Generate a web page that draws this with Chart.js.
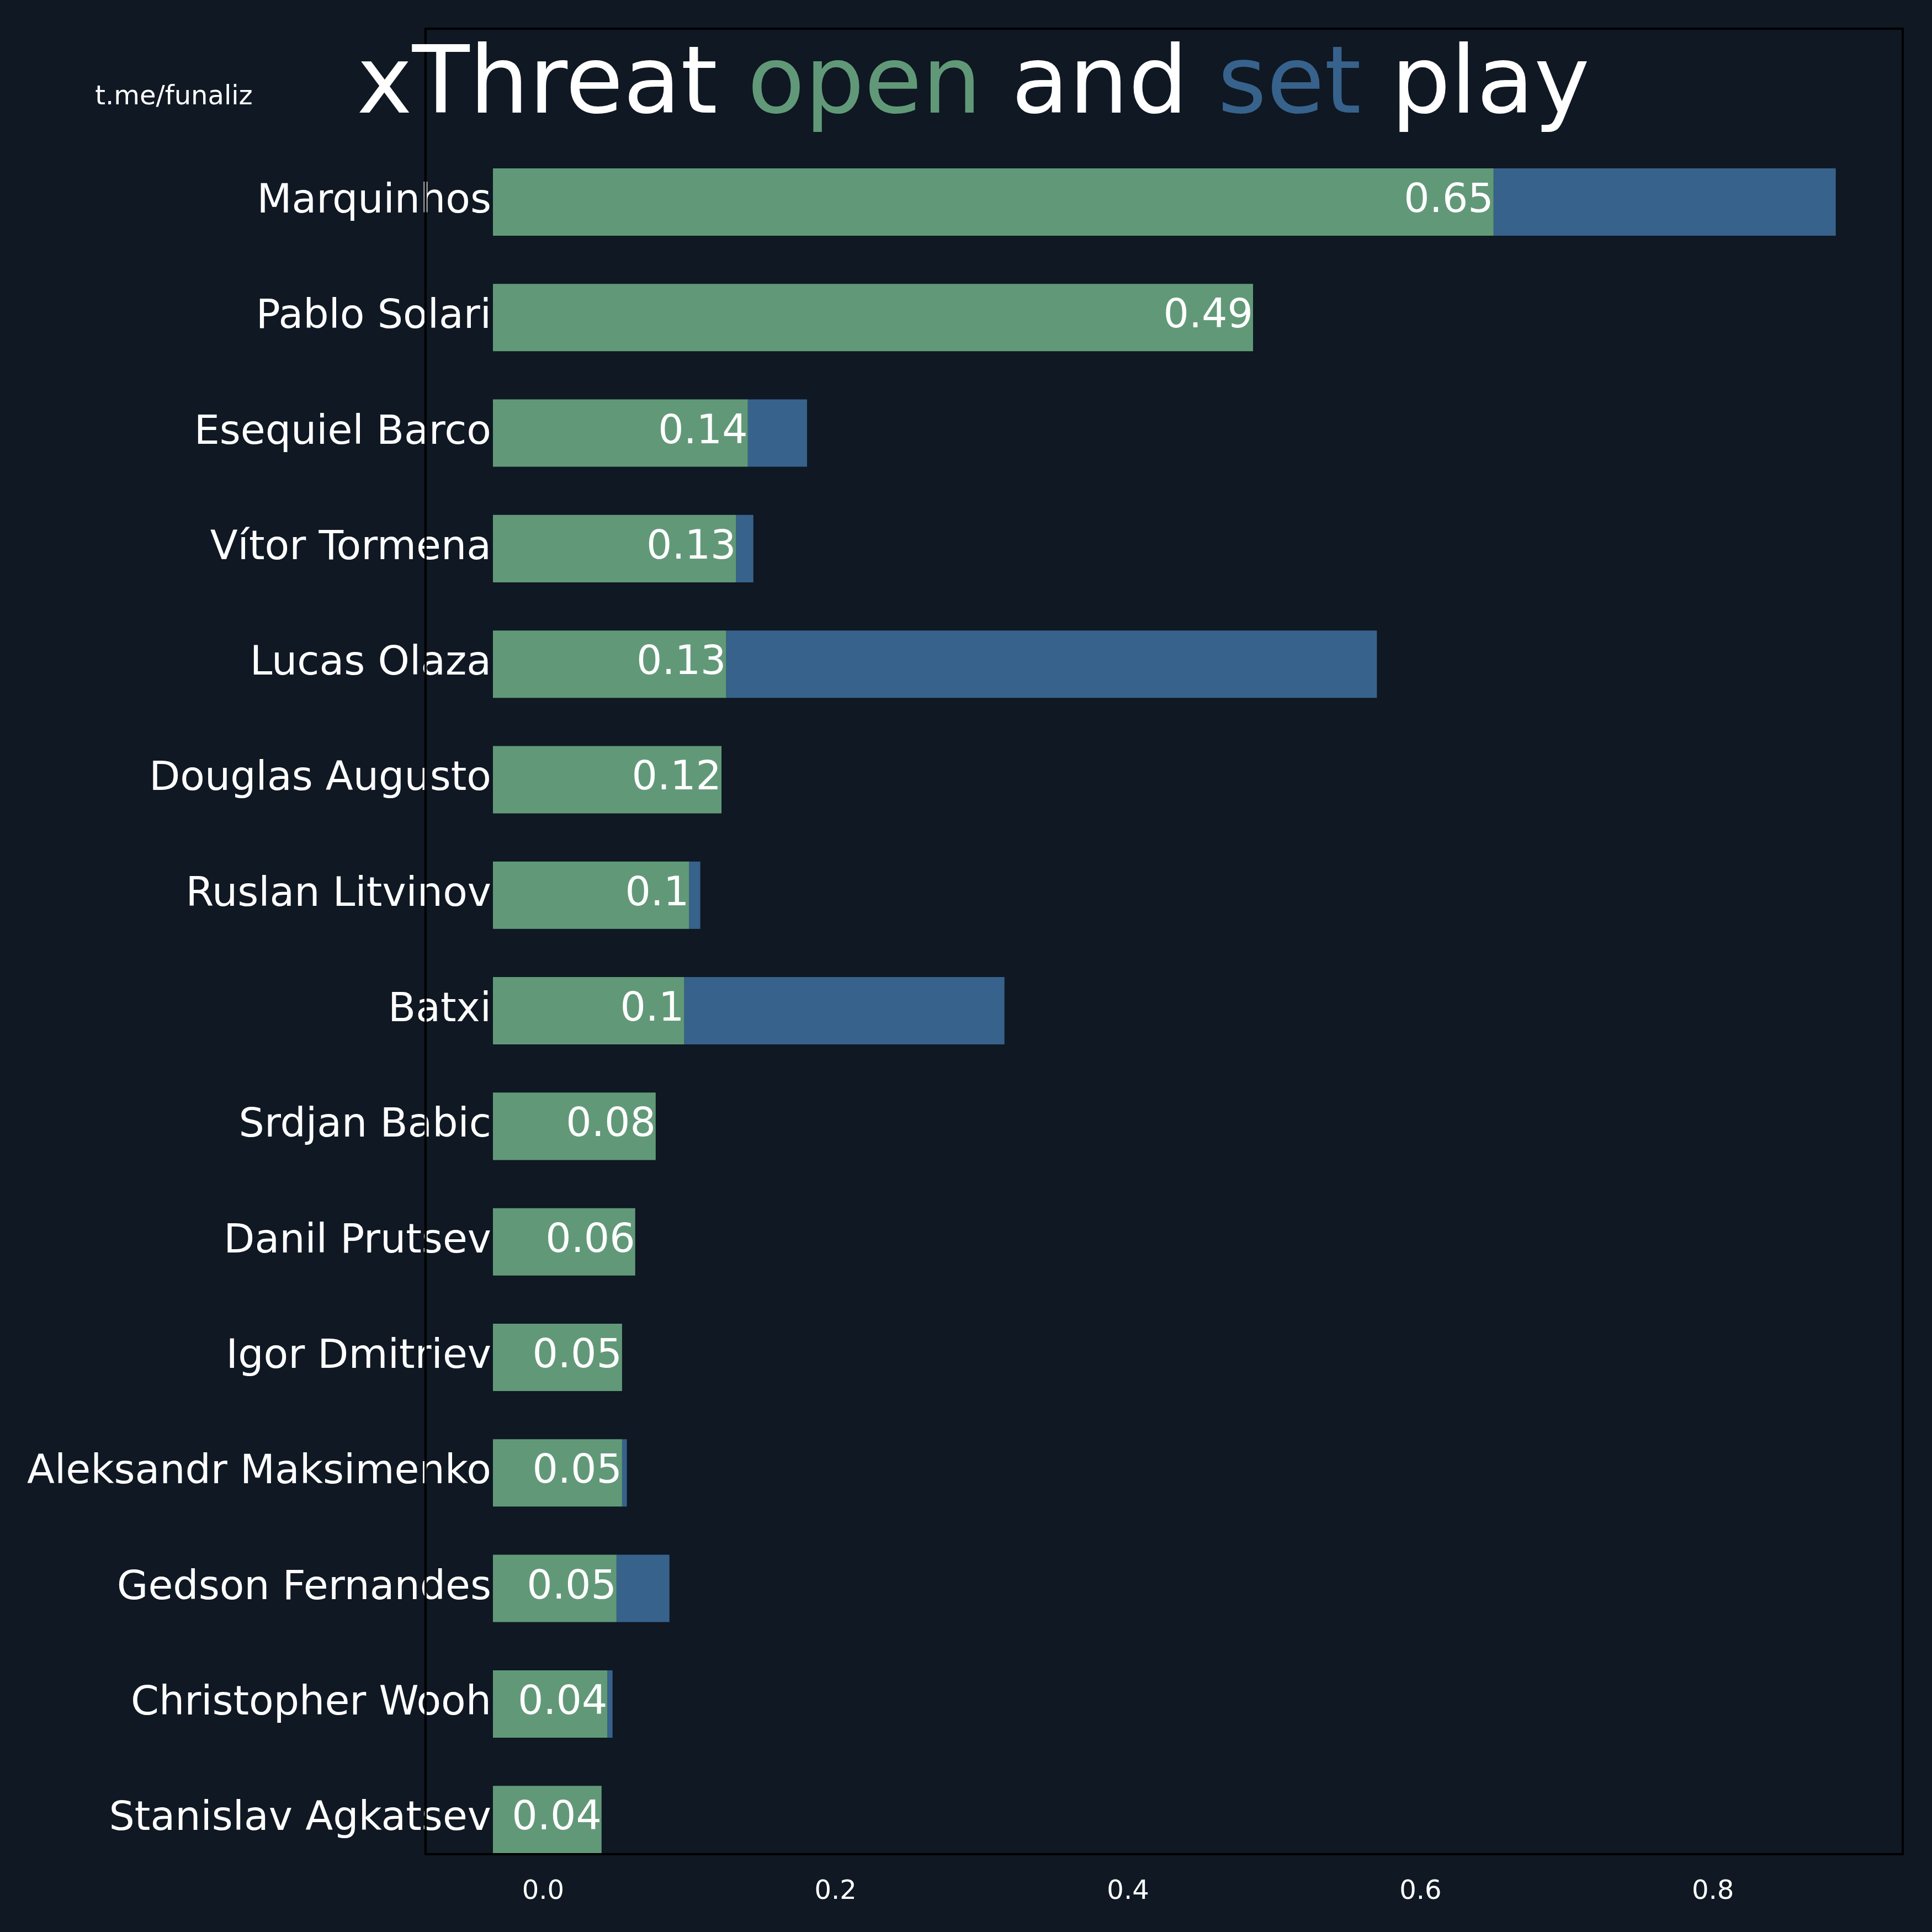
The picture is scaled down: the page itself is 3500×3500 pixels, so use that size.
<!DOCTYPE html>
<html>
<head>
<meta charset="utf-8">
<script src="https://cdn.jsdelivr.net/npm/chart.js@4.4.0/dist/chart.umd.min.js"></script>
<style>
    html, body { margin: 0; padding: 0; background: #0f1823; }
    #wrap { width: 3500px; height: 3500px; }
</style>
</head>
<body>
<div id="wrap"><canvas id="chartXT"></canvas></div>
<script>
// dados (xThreat por jogador)
var jogadores = ["Marquinhos", "Pablo Solari", "Esequiel Barco", "Vítor Tormena", "Lucas Olaza",
    "Douglas Augusto", "Ruslan Litvinov", "Batxi", "Srdjan Babic", "Danil Prutsev", "Igor Dmitriev",
    "Aleksandr Maksimenko", "Gedson Fernandes", "Christopher Wooh", "Stanislav Agkatsev"];
var openPlay = [0.650, 0.4855, 0.140, 0.132, 0.1252, 0.122, 0.0999, 0.0965, 0.077, 0.063, 0.054,
    0.054, 0.0502, 0.044, 0.040];
var setPlay = [0.234, 0, 0.0405, 0.0118, 0.445, 0, 0.0076, 0.219, 0, 0, 0,
    0.0033, 0.0362, 0.0035, 0];
var ticksX = [0, 0.2, 0.4, 0.6, 0.8];
var inicioBarra = -0.0343;
var limitesX = [-0.0804, 0.9298];
var limitesY = [-1.5, 14.3];

var corFundo = "#0f1823";
var corOpen = "#619978";
var corSet = "#37628b";
var fonte = "DejaVu Sans";

Chart.defaults.font.family = fonte;

function formatar(v) {
    return String(Math.round(v * 100) / 100);
}

// fundo escuro
var pluginFundo = {
    id: "fundo",
    beforeDraw: function(chart) {
        var ctx = chart.ctx;
        ctx.save();
        ctx.fillStyle = corFundo;
        ctx.fillRect(0, 0, chart.width, chart.height);
        ctx.restore();
    }
};

// moldura, valores nas barras, título e assinatura
var pluginTextos = {
    id: "textos",
    afterDraw: function(chart) {
        var ctx = chart.ctx;
        var area = chart.chartArea;
        var esquerda = chart.scales.x.getPixelForValue(limitesX[0]);
        ctx.save();

        ctx.strokeStyle = "#000000";
        ctx.lineWidth = 4;
        ctx.strokeRect(esquerda, area.top, area.right - esquerda, area.bottom - area.top);

        var meta = chart.getDatasetMeta(0);
        ctx.font = "73px '" + fonte + "'";
        ctx.fillStyle = "#ffffff";
        ctx.textAlign = "right";
        ctx.textBaseline = "middle";
        meta.data.forEach(function(barra, i) {
            ctx.fillText(formatar(openPlay[i]), barra.x, barra.y - 1);
        });

        var partes = [["xThreat ", "#ffffff"], ["open", corOpen], [" and ", "#ffffff"],
            ["set", corSet], [" play", "#ffffff"]];
        ctx.font = "170px '" + fonte + "'";
        ctx.textAlign = "left";
        ctx.textBaseline = "alphabetic";
        var total = 0;
        partes.forEach(function(p) { total += ctx.measureText(p[0]).width; });
        var x = 1763 - total / 2;
        partes.forEach(function(p) {
            ctx.fillStyle = p[1];
            ctx.fillText(p[0], x, 204);
            x += ctx.measureText(p[0]).width;
        });

        ctx.font = "48px '" + fonte + "'";
        ctx.fillStyle = "#ffffff";
        ctx.textAlign = "center";
        ctx.fillText("t.me/funaliz", 315, 189);
        ctx.restore();
    }
};

function plotarXT() {
    var ctx = document.getElementById("chartXT").getContext("2d");
    var grafico = new Chart(ctx, {
        type: "bar",
        data: {
            datasets: [{
                label: "open",
                data: openPlay.map(function(v, i) { return { x: [inicioBarra, v], y: i }; }),
                backgroundColor: corOpen,
            }, {
                label: "set",
                data: setPlay.map(function(v, i) { return { x: [openPlay[i], openPlay[i] + v], y: i }; }),
                backgroundColor: corSet,
            }, ],
        },
        options: {
            indexAxis: "y",
            animation: false,
            responsive: true,
            maintainAspectRatio: false,
            devicePixelRatio: 1,
            datasets: {
                bar: {
                    grouped: false,
                    categoryPercentage: 1,
                    barPercentage: 0.583,
                    borderWidth: 0,
                }
            },
            layout: { padding: { top: 52, right: 53, left: 0, bottom: 0 } },
            plugins: {
                legend: { display: false },
                tooltip: { enabled: false },
            },
            scales: {
                x: {
                    type: "linear",
                    min: inicioBarra,
                    max: limitesX[1],
                    offset: false,
                    grid: { display: false, drawTicks: false },
                    border: { display: false },
                    afterBuildTicks: function(eixo) {
                        eixo.ticks = ticksX.map(function(v) { return { value: v }; });
                    },
                    afterFit: function(eixo) { eixo.height = 141; },
                    ticks: {
                        color: "#ffffff",
                        font: { size: 48 },
                        padding: 40,
                        autoSkip: false,
                        maxRotation: 0,
                        callback: function(v) { return v.toFixed(1); },
                    },
                },
                y: {
                    type: "linear",
                    reverse: true,
                    offset: false,
                    min: limitesY[0],
                    max: limitesY[1],
                    grid: { display: false, drawTicks: false },
                    border: { display: false },
                    afterBuildTicks: function(eixo) {
                        eixo.ticks = jogadores.map(function(n, i) { return { value: i }; });
                    },
                    afterFit: function(eixo) { eixo.width = 893; },
                    ticks: {
                        color: "#ffffff",
                        font: { size: 73 },
                        padding: 3,
                        autoSkip: false,
                        callback: function(v) { return jogadores[v]; },
                    },
                },
            },
        },
        plugins: [pluginFundo, pluginTextos],
    });
}

plotarXT();
</script>
</body>
</html>
